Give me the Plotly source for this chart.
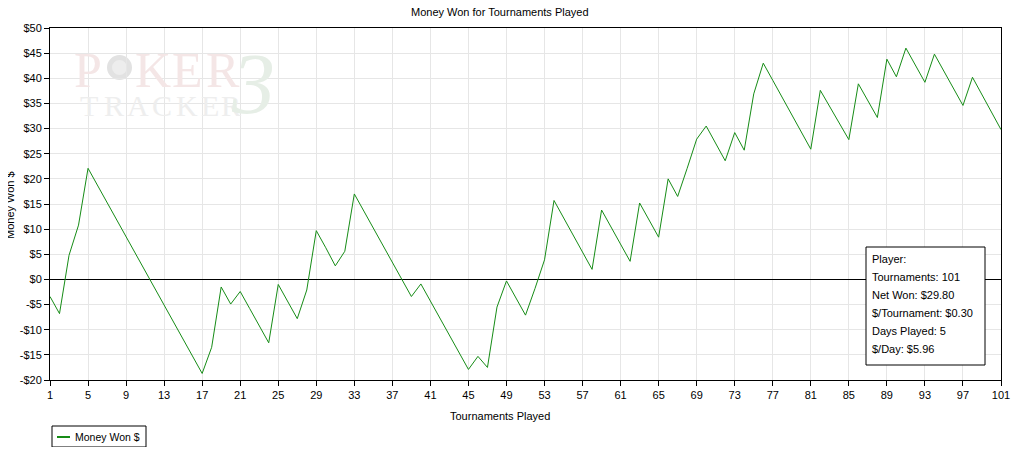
import plotly.graph_objects as go

# ---------------- data ----------------
tournaments = list(range(1, 102))
money_won = [
    -3.4, -6.8, 4.8, 10.8, 22.1, 18.7, 15.3, 11.9, 8.5, 5.1,
    1.7, -1.7, -5.1, -8.5, -11.9, -15.3, -18.7, -13.5, -1.5, -4.9,
    -2.4, -5.8, -9.2, -12.6, -1.0, -4.4, -7.8, -2.1, 9.7, 6.3,
    2.7, 5.6, 17.0, 13.6, 10.2, 6.8, 3.4, 0.0, -3.4, -0.9,
    -4.3, -7.7, -11.1, -14.5, -17.9, -15.3, -17.5, -5.5, -0.3, -3.7,
    -7.1, -1.8, 3.9, 15.7, 12.3, 8.9, 5.5, 2.0, 13.8, 10.4,
    7.0, 3.6, 15.2, 11.8, 8.4, 20.0, 16.5, 22.1, 27.9, 30.5,
    27.1, 23.6, 29.2, 25.7, 36.9, 43.0, 39.6, 36.2, 32.8, 29.4,
    25.9, 37.6, 34.3, 31.0, 27.8, 38.9, 35.6, 32.2, 43.8, 40.3,
    46.0, 42.6, 39.2, 44.8, 41.4, 38.0, 34.6, 40.2, 36.8, 33.4,
    29.8,
]
x_tickvals = list(range(1, 102, 4))
y_tickvals = list(range(-20, 51, 5))
y_ticktext = [("-$%d" % -v) if v < 0 else ("$%d" % v) for v in y_tickvals]

title_text = "Money Won for Tournaments Played"
x_title = "Tournaments Played"
y_title = "Money Won $"
series_name = "Money Won $"
info_lines = [
    "Player:",
    "Tournaments: 101",
    "Net Won: $29.80",
    "$/Tournament: $0.30",
    "Days Played: 5",
    "$/Day: $5.96",
]

# ---------------- layout helpers ----------------
# the page body has an 8px margin, so the figure is placed at (8, 8) in the window
OFF = 8
W, H = 1034 - 2 * OFF, 455 - 2 * OFF
# plot area in window pixels
L, R, T, B = 50, 1001, 28, 380
FONT = "Liberation Sans"


def px(x):
    return (x - L) / (R - L)


def py(y):
    return (B - y) / (B - T)


fig = go.Figure()
fig.add_trace(go.Scatter(
    x=tournaments, y=money_won, mode="lines", name=series_name,
    line=dict(color="#168c16", width=1), showlegend=False,
    hoverinfo="x+y",
))

annotations = []
shapes = []

# title
annotations.append(dict(text=title_text, x=px(500), y=py(12), xref="paper", yref="paper",
                        showarrow=False, xanchor="center", yanchor="middle",
                        font=dict(family=FONT, size=11, color="#000")))
# axis titles
annotations.append(dict(text=x_title, x=px(500), y=py(416), xref="paper", yref="paper",
                        showarrow=False, xanchor="center", yanchor="middle",
                        font=dict(family=FONT, size=11, color="#000")))
annotations.append(dict(text=y_title, x=px(10), y=py(205), xref="paper", yref="paper",
                        showarrow=False, xanchor="center", yanchor="middle", textangle=-90,
                        font=dict(family=FONT, size=11, color="#000")))

# watermark
wm_serif = "Liberation Serif"
for ch, cx in zip("PKER", [88, 153, 187, 223]):
    annotations.append(dict(text=ch, x=px(cx), y=py(70), xref="paper", yref="paper",
                            showarrow=False, xanchor="center", yanchor="middle",
                            font=dict(family=wm_serif, size=50, color="#f4e6e6")))
for ch, cx in zip("TRACKER", [89, 114, 138, 162, 187, 210, 231]):
    annotations.append(dict(text=ch, x=px(cx), y=py(106), xref="paper", yref="paper",
                            showarrow=False, xanchor="center", yanchor="middle",
                            font=dict(family=wm_serif, size=30, color="#eeeeee")))
annotations.append(dict(text="<i>3</i>", x=px(253), y=py(84), xref="paper", yref="paper",
                        showarrow=False, xanchor="center", yanchor="middle",
                        font=dict(family=wm_serif, size=86, color="#e6eee6")))
# chip in place of the O
shapes.append(dict(type="circle", xref="paper", yref="paper", layer="below",
                   x0=px(107), x1=px(132), y0=py(55), y1=py(80),
                   fillcolor="#e2e2e2", line=dict(width=0)))
shapes.append(dict(type="circle", xref="paper", yref="paper", layer="below",
                   x0=px(112), x1=px(127), y0=py(60), y1=py(75),
                   fillcolor="#ededed", line=dict(width=0)))

# info box
shapes.append(dict(type="rect", xref="paper", yref="paper", layer="above",
                   x0=px(866), x1=px(985), y0=py(247), y1=py(365),
                   fillcolor="white", line=dict(color="#000", width=1)))
for i, line in enumerate(info_lines):
    annotations.append(dict(text=line, x=px(870), y=py(259 + 18 * i), xref="paper", yref="paper",
                            showarrow=False, xanchor="left", yanchor="middle",
                            font=dict(family=FONT, size=11, color="#000")))

# legend (drawn manually to match the compact look)
shapes.append(dict(type="rect", xref="paper", yref="paper",
                   x0=px(52), x1=px(146), y0=py(426), y1=py(447),
                   fillcolor="white", line=dict(color="#000", width=1)))
shapes.append(dict(type="line", xref="paper", yref="paper",
                   x0=px(57), x1=px(70), y0=py(437), y1=py(437),
                   line=dict(color="#168c16", width=2)))
annotations.append(dict(text=series_name, x=px(73), y=py(437), xref="paper", yref="paper",
                        showarrow=False, xanchor="left", yanchor="middle",
                        font=dict(family=FONT, size=10.5, color="#000")))

fig.update_layout(
    width=W, height=H,
    margin=dict(l=L - OFF, r=W - (R - OFF), t=T - OFF, b=H - (B - OFF), pad=0),
    paper_bgcolor="white", plot_bgcolor="white",
    font=dict(family=FONT, size=11, color="#000"),
    showlegend=False,
    annotations=annotations, shapes=shapes,
    xaxis=dict(range=[1, 101], tickvals=x_tickvals, showgrid=True, gridcolor="#e6e6e6",
               gridwidth=1, showline=True, linecolor="#000", linewidth=1, mirror=True,
               ticks="outside", ticklen=5, tickcolor="#000", zeroline=False,
               tickfont=dict(family=FONT, size=11)),
    yaxis=dict(range=[-20, 50], tickvals=y_tickvals, ticktext=y_ticktext, showgrid=True,
               gridcolor="#e6e6e6", gridwidth=1, showline=True, linecolor="#000", linewidth=1,
               mirror=True, ticks="outside", ticklen=5, tickcolor="#000",
               zeroline=True, zerolinecolor="#000", zerolinewidth=1,
               tickfont=dict(family=FONT, size=11)),
)

fig.write_html("out.html")
